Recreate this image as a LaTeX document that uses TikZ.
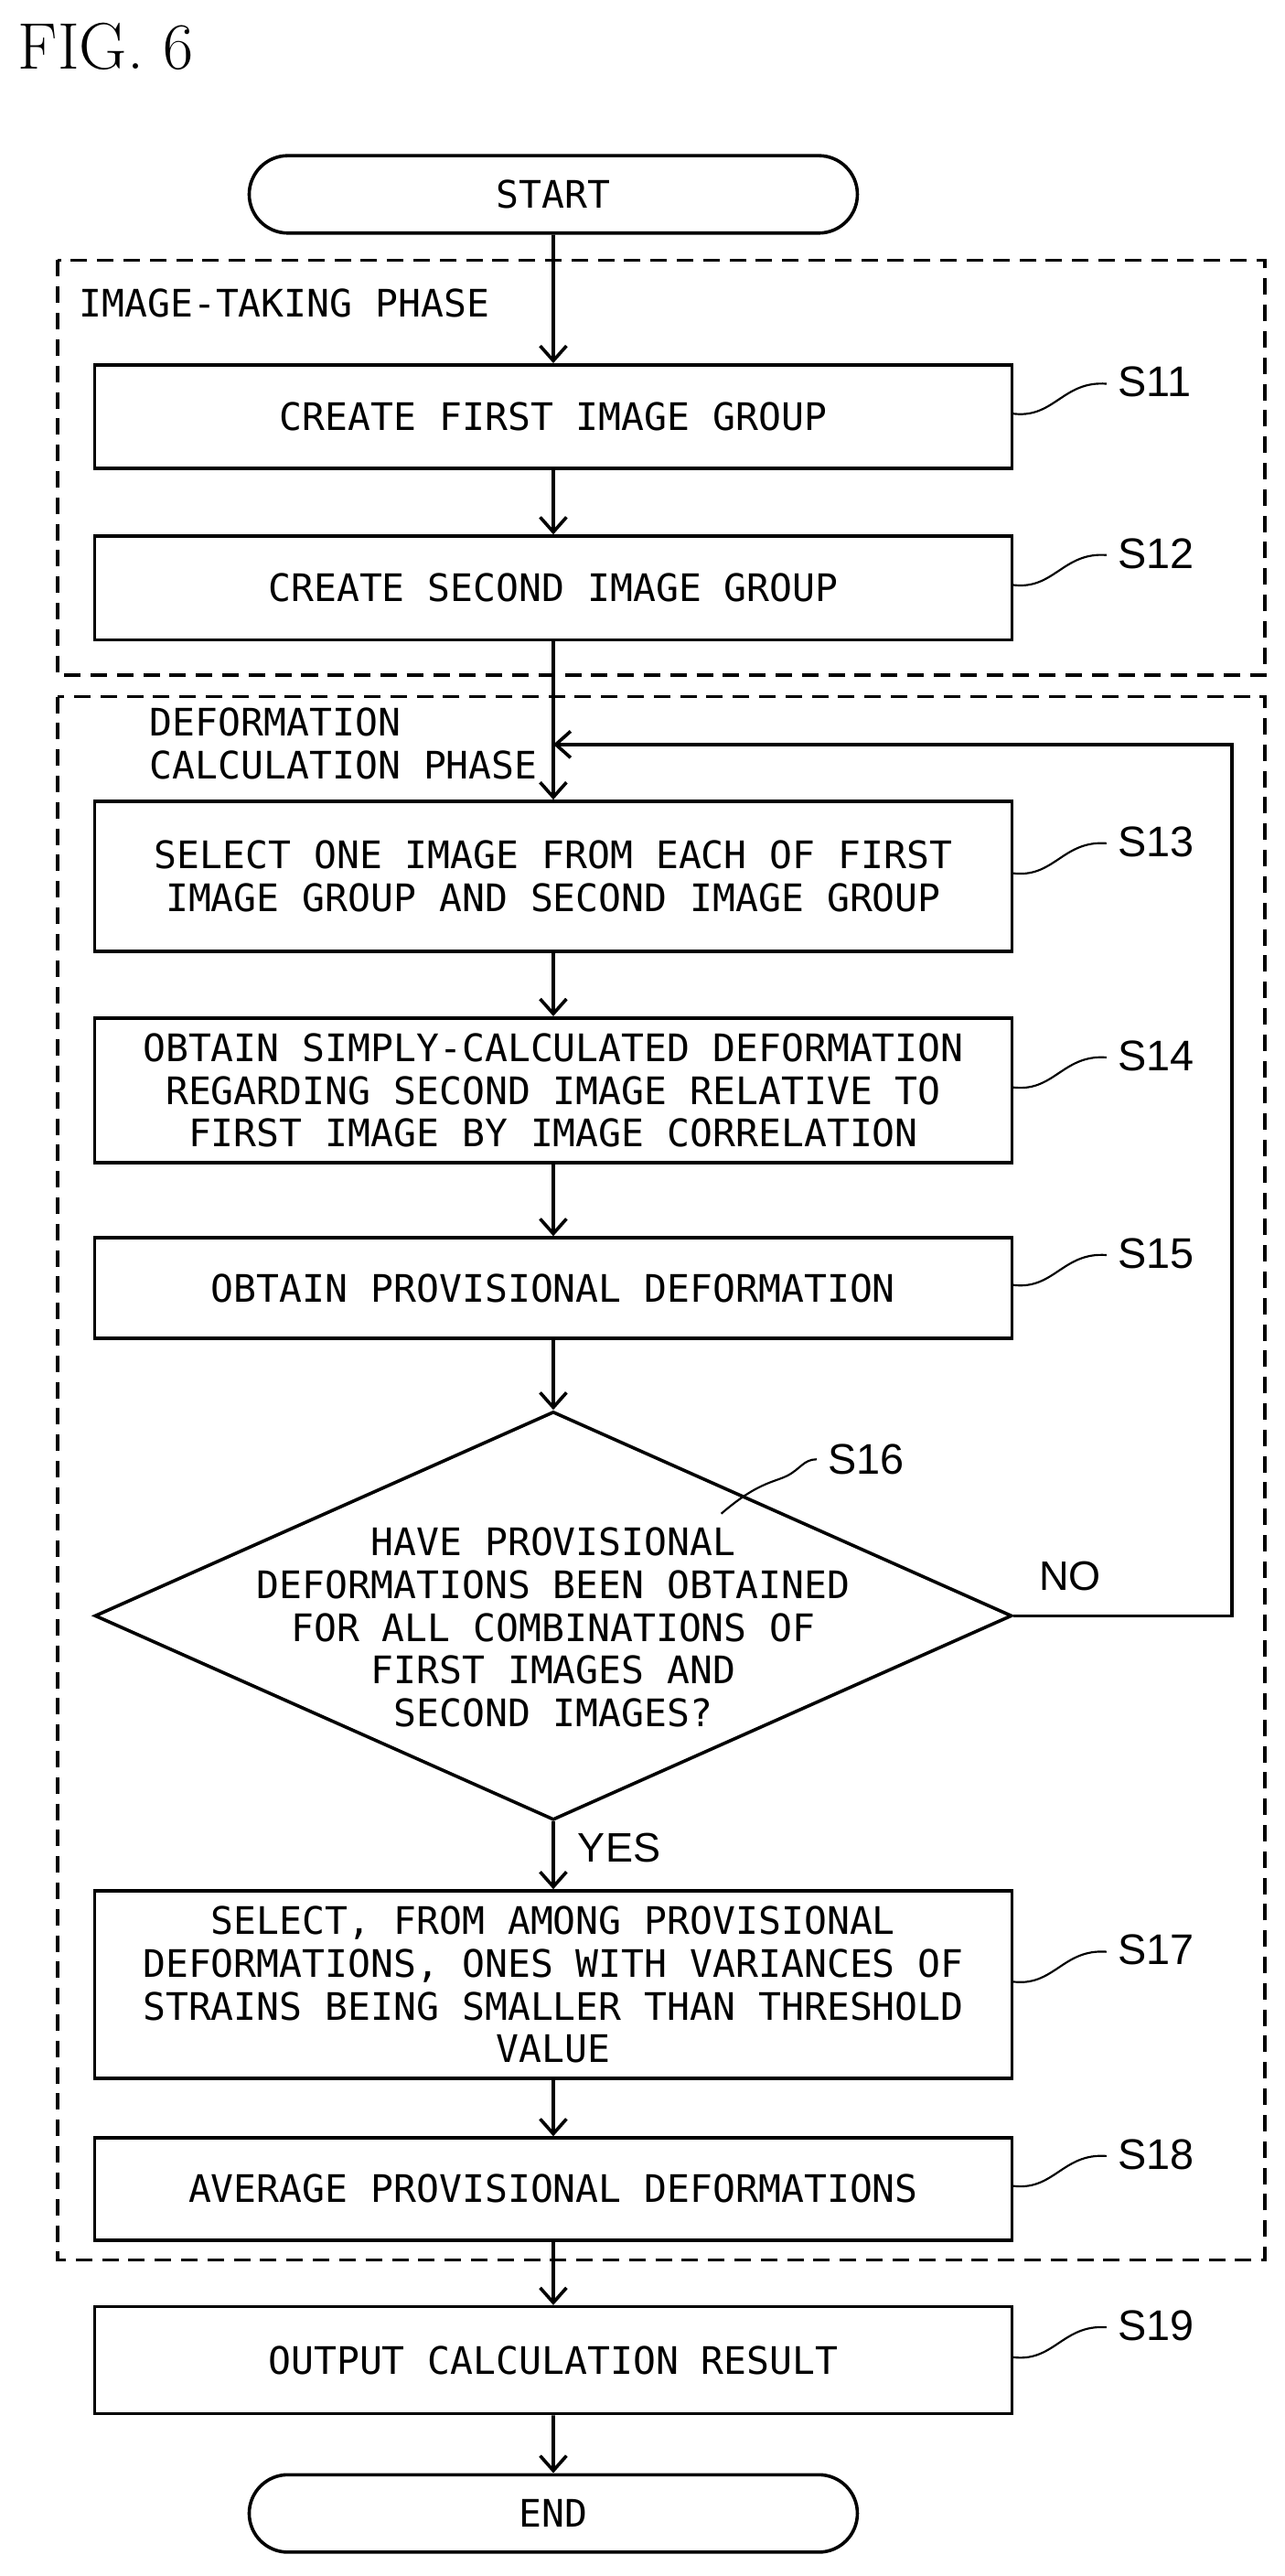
\documentclass[tikz,border=0pt]{standalone}
\usepackage{fontspec}
\setmonofont{DejaVu Sans Mono}
\setsansfont{Liberation Sans}
\usetikzlibrary{shapes.geometric,arrows.meta}
\begin{document}
\begin{tikzpicture}[x=1pt,y=-1pt,line width=2pt,
  box/.style={draw,minimum width=557pt,inner sep=0pt,align=center,font=\ttfamily\fontsize{23}{26}\selectfont},
  term/.style={draw,rounded rectangle,minimum width=376pt,minimum height=47pt,font=\ttfamily\fontsize{23}{26}\selectfont},
  arr/.style={-{Straight Barb[length=9pt,width=16pt]}},
  phase/.style={draw,dash pattern=on 10pt off 6pt},
  lbl/.style={font=\sffamily\fontsize{26}{28}\selectfont,anchor=west,inner sep=0pt},
  sq/.style={line width=1.2pt}]
\useasboundingbox (0,0) rectangle (780,1564);
\tikzset{every node/.append style={}}
\usetikzlibrary{shapes.misc}
\node[anchor=north west,inner sep=0pt,font=\rmfamily\fontsize{40}{44}\selectfont] (fig) at (10,13) {FIG. 6};
\draw[phase] (35,158) rectangle (768,410);
\draw[phase] (35,423) rectangle (768,1372);
\node[anchor=west,inner sep=0pt,font=\ttfamily\fontsize{23}{26}\selectfont] (p1) at (47,184) {IMAGE-TAKING PHASE};
\node[anchor=north west,inner sep=0pt,align=left,font=\ttfamily\fontsize{23}{26}\selectfont] (p2) at (90,429) {DEFORMATION\\CALCULATION PHASE};
\node[term] (start) at (336,118) {START};
\node[box,minimum height=63pt] (s11) at (336,253) {CREATE FIRST IMAGE GROUP};
\node[box,minimum height=63pt] (s12) at (336,357) {CREATE SECOND IMAGE GROUP};
\node[box,minimum height=91pt] (s13) at (336,532) {SELECT ONE IMAGE FROM EACH OF FIRST\\IMAGE GROUP AND SECOND IMAGE GROUP};
\node[box,minimum height=88pt] (s14) at (336,662) {OBTAIN SIMPLY-CALCULATED DEFORMATION\\REGARDING SECOND IMAGE RELATIVE TO\\FIRST IMAGE BY IMAGE CORRELATION};
\node[box,minimum height=61pt] (s15) at (336,782) {OBTAIN PROVISIONAL DEFORMATION};
\node[draw,diamond,minimum width=557pt,minimum height=248pt,inner sep=0pt] (s16) at (336,981) {};
\node[align=center,inner sep=0pt,font=\ttfamily\fontsize{23}{26}\selectfont] (s16t) at (336,988) {HAVE PROVISIONAL\\DEFORMATIONS BEEN OBTAINED\\FOR ALL COMBINATIONS OF\\FIRST IMAGES AND\\SECOND IMAGES?};
\node[box,minimum height=114pt] (s17) at (336,1205) {SELECT, FROM AMONG PROVISIONAL\\DEFORMATIONS, ONES WITH VARIANCES OF\\STRAINS BEING SMALLER THAN THRESHOLD\\VALUE};
\node[box,minimum height=62pt] (s18) at (336,1329) {AVERAGE PROVISIONAL DEFORMATIONS};
\node[box,minimum height=65pt] (s19) at (336,1433) {OUTPUT CALCULATION RESULT};
\node[term] (end) at (336,1526) {END};
\draw[arr] (start) -- (s11);
\draw[arr] (s11) -- (s12);
\draw[arr] (s12) -- (s13);
\draw[arr] (s13) -- (s14);
\draw[arr] (s14) -- (s15);
\draw[arr] (s15) -- (s16);
\draw[arr] (s16) -- (s17);
\draw[arr] (s17) -- (s18);
\draw[arr] (s18) -- (s19);
\draw[arr] (s19) -- (end);
\coordinate (lp) at (336,452);
\draw[arr] (s16.east) -- (748,981) -- (748,452) -- (lp);
\node[lbl,font=\sffamily\fontsize{25}{28}\selectfont] (yes) at (350,1122) {YES};
\node[lbl,font=\sffamily\fontsize{25}{28}\selectfont] (no) at (630,957) {NO};
\foreach \n/\y in {s11/253,s12/357,s13/532,s14/662,s15/782,s17/1205,s18/1329,s19/1433}{
  \draw[sq] (614,\y-2) .. controls (640,\y+2) and (645,\y-22) .. (672,\y-20);
  \node[lbl] at (678,\y-21) {\MakeUppercase{\n}};
}
\draw[sq] (438,919) .. controls (460,900) and (470,900) .. (478,896) .. controls (486,892) and (488,886) .. (496,886);
\node[lbl] (l16) at (502,886) {S16};
\end{tikzpicture}
\end{document}
